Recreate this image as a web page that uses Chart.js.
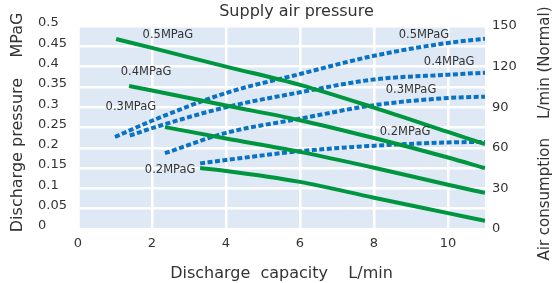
<!DOCTYPE html>
<html><head><meta charset="utf-8">
<script src="https://cdn.jsdelivr.net/npm/chart.js@4.4.1/dist/chart.umd.min.js"></script>
<style>html,body{margin:0;padding:0;background:#fff;}#wrap{width:555px;height:283px;}</style>
</head><body><div id="wrap"><canvas id="c" width="555" height="283"></canvas></div>
<script>
// ---- text ----
const chartTitle = 'Supply air pressure';
const xTitle = 'Discharge  capacity    L/min';
const yLeftTitle = '  Discharge pressure    MPaG';
const yRightTitle = 'Air consumption    L/min (Normal)';

// ---- ticks ----
const xTickValues = [0, 2, 4, 6, 8, 10];
const leftTickValues = [0, 0.05, 0.1, 0.15, 0.2, 0.25, 0.3, 0.35, 0.4, 0.45, 0.5];
const leftTickLabels = ['0', '0.05', '0.1', '0.15', '0.2', '0.25', '0.3', '0.35', '0.4', '0.45', '0.5'];
const rightTickValues = [0, 30, 60, 90, 120, 150];

// ---- series: discharge pressure (MPaG) vs discharge capacity (L/min) ----
const supplyLevels = ['0.5MPaG', '0.4MPaG', '0.3MPaG', '0.2MPaG'];
const presCap05 = [1.03, 2, 4, 6, 8, 10, 11];
const pres05    = [0.468, 0.446, 0.400, 0.355, 0.299, 0.239, 0.209];
const presCap04 = [1.38, 2, 4, 6, 8, 10, 11];
const pres04    = [0.352, 0.341, 0.304, 0.268, 0.224, 0.176, 0.150];
const presCap03 = [2.35, 4, 6, 8, 10, 11];
const pres03    = [0.251, 0.223, 0.190, 0.151, 0.109, 0.089];
const presCap02 = [3.3, 4, 6, 8, 10, 11];
const pres02    = [0.150, 0.143, 0.116, 0.077, 0.039, 0.020];

// ---- series: air consumption (L/min Normal) vs discharge capacity ----
const airCap05 = [1.0, 2, 4, 6, 8, 10, 11];
const air05    = [68, 80, 100.5, 114.5, 128, 137.5, 140.5];
const airCap04 = [1.4, 2, 4, 6, 8, 10, 11];
const air04    = [69, 74.5, 90, 101, 110.5, 114, 115.5];
const airCap03 = [2.35, 4, 6, 8, 10, 11];
const air03    = [56, 71, 81.5, 91.5, 96.8, 97.8];
const airCap02 = [3.3, 4, 6, 8, 10, 11];
const air02    = [48.5, 51, 57.5, 61.5, 64, 64.3];

// ---- curve labels (anchors in data units) ----
const presLabelX = [2.43, 1.84, 1.43, 2.49];
const presLabelY = [0.478, 0.387, 0.300, 0.145];
const airLabelX  = [9.35, 10.03, 9.0, 8.84];
const airLabelY  = [143.4, 123.4, 102.7, 71.7];

const GREEN = '#009640';
const BLUE = '#0a72c4';
const TEXT = '#333333';

const pts = (xs, ys) => xs.map((x, i) => ({x, y: ys[i]}));
const presSeries = [[presCap05, pres05], [presCap04, pres04], [presCap03, pres03], [presCap02, pres02]];
const airSeries  = [[airCap05, air05], [airCap04, air04], [airCap03, air03], [airCap02, air02]];

const datasets = [];
presSeries.forEach((s, i) => datasets.push({
  label: 'Discharge pressure ' + supplyLevels[i], data: pts(s[0], s[1]), yAxisID: 'yP',
  borderColor: GREEN, borderWidth: 4, pointRadius: 0, cubicInterpolationMode: 'monotone', fill: false
}));
airSeries.forEach((s, i) => datasets.push({
  label: 'Air consumption ' + supplyLevels[i], data: pts(s[0], s[1]), yAxisID: 'yA',
  borderColor: BLUE, borderWidth: 4, borderDash: [5, 2.5], pointRadius: 0, cubicInterpolationMode: 'monotone', fill: false
}));

const plotBg = {
  id: 'plotBg',
  beforeDraw(chart) {
    const {ctx, chartArea: a} = chart;
    ctx.save(); ctx.fillStyle = '#dfe9f5';
    ctx.fillRect(a.left, a.top, a.right - a.left, a.bottom - a.top);
    ctx.restore();
  }
};
const extraText = {
  id: 'extraText',
  afterDraw(chart) {
    const {ctx, scales} = chart;
    ctx.save();
    ctx.fillStyle = TEXT;
    ctx.textAlign = 'center'; ctx.textBaseline = 'middle';
    ctx.font = '11.5px "DejaVu Sans"';
    supplyLevels.forEach((t, i) => {
      ctx.fillText(t, scales.x.getPixelForValue(presLabelX[i]), scales.yP.getPixelForValue(presLabelY[i]));
      ctx.fillText(t, scales.x.getPixelForValue(airLabelX[i]), scales.yA.getPixelForValue(airLabelY[i]));
    });
    // right axis title, reading bottom to top
    ctx.font = '15px "DejaVu Sans"';
    ctx.translate(545, 133.5);
    ctx.rotate(-Math.PI / 2);
    ctx.fillText(yRightTitle, 0, 0);
    ctx.restore();
  }
};

Chart.defaults.font.family = '"DejaVu Sans"';
Chart.defaults.color = TEXT;

new Chart(document.getElementById('c'), {
  type: 'line',
  data: {datasets},
  plugins: [plotBg, extraText],
  options: {
    responsive: false, animation: false, devicePixelRatio: 1,
    layout: {padding: {left: 38, right: 0, top: 0, bottom: 0}},
    plugins: {
      legend: {display: false}, tooltip: {enabled: false},
      title: {display: true, text: chartTitle, color: TEXT, font: {size: 16, weight: 'normal'}, padding: {top: 2, bottom: 4.8}}
    },
    scales: {
      x: {
        type: 'linear', min: 0, max: 11,
        afterBuildTicks: s => { s.ticks = xTickValues.map(v => ({value: v})); },
        afterFit: s => { s.height = 54; },
        ticks: {font: {size: 13}, padding: 7, color: TEXT},
        grid: {color: '#ffffff', lineWidth: 2.5, drawTicks: false},
        border: {display: true, color: '#ffffff', width: 2.5},
        title: {display: true, text: xTitle, color: TEXT, font: {size: 16}, padding: {top: 3.4, bottom: 0}}
      },
      yP: {
        type: 'linear', position: 'left', min: 0, max: 0.5,
        afterBuildTicks: s => { s.ticks = leftTickValues.map(v => ({value: v})); },
        afterFit: s => { s.width = 40; },
        ticks: {font: {size: 13}, crossAlign: 'far', labelOffset: -3, color: TEXT,
                callback: (v, i) => leftTickLabels[i]},
        grid: {color: '#ffffff', lineWidth: 2.5, drawTicks: false},
        border: {display: true, color: '#ffffff', width: 2.5},
        title: {display: true, text: yLeftTitle, color: TEXT, font: {size: 16}, padding: {top: -30, bottom: 0}}
      },
      yA: {
        type: 'linear', position: 'right', min: 0, max: 150,
        afterBuildTicks: s => { s.ticks = rightTickValues.map(v => ({value: v})); },
        afterFit: s => { s.width = 70; },
        ticks: {font: {size: 13}, padding: 7, color: TEXT},
        grid: {display: false, drawTicks: false},
        border: {display: false}
      }
    }
  }
});
</script></body></html>
